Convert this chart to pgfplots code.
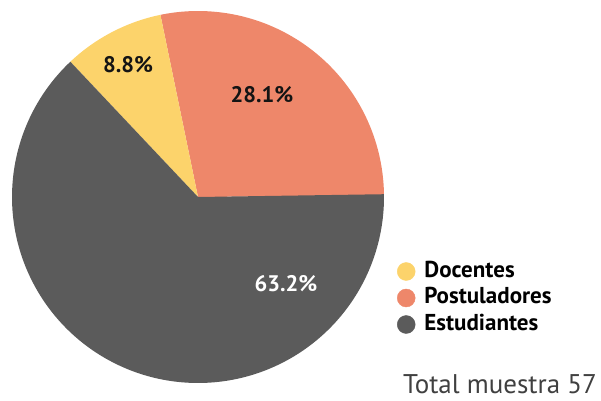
\documentclass[border=0pt]{standalone}
\usepackage{pgfplots}
\pgfplotsset{compat=1.18}
\usepackage{fontspec}
\setmainfont{PT Sans}
\definecolor{cDoc}{HTML}{FCD36B}
\definecolor{cPos}{HTML}{EE876A}
\definecolor{cEst}{HTML}{5B5B5B}
\definecolor{cTxt}{HTML}{141414}
\definecolor{cTot}{HTML}{404040}
% data (percent)
\def\pPos{28.1}
\def\pDoc{8.8}
\def\pEst{63.2}
\def\startang{0.5}
\pgfmathsetmacro{\aA}{\startang}
\pgfmathsetmacro{\aB}{\aA+3.6*\pPos}
\pgfmathsetmacro{\aC}{\aB+3.6*\pDoc}
\pgfmathsetmacro{\aD}{\aC+3.6*\pEst}
\def\cx{198}
\def\cy{203}
\def\rr{186}
\begin{document}
\begin{tikzpicture}
\begin{axis}[
  width=601pt, height=400pt, scale only axis,
  xmin=0, xmax=601, ymin=0, ymax=400,
  hide axis, clip=false,
  legend cell align=left,
  legend style={at={(axis cs:397,102)}, anchor=west, draw=none, fill=none,
    inner sep=0pt, outer sep=0pt, row sep=5.5pt,
    font=\bfseries\fontsize{23}{27}\selectfont,
    nodes={text height=16pt, text depth=5pt, inner ysep=0pt, inner xsep=0pt},
    /tikz/every odd column/.append style={column sep=9pt}},
  legend image code/.code={\fill[#1] (9pt,0pt) circle (9pt);},
]
\path (axis cs:0,0) rectangle (axis cs:601,400);
\addplot[fill=cPos, draw=none, domain=\aA:\aB, samples=90, variable=\t, forget plot]
  ({\cx+\rr*cos(\t)},{\cy+\rr*sin(\t)}) -- (\cx,\cy) -- cycle;
\addplot[fill=cDoc, draw=none, domain=\aB:\aC, samples=40, variable=\t, forget plot]
  ({\cx+\rr*cos(\t)},{\cy+\rr*sin(\t)}) -- (\cx,\cy) -- cycle;
\addplot[fill=cEst, draw=none, domain=\aC:\aD, samples=180, variable=\t, forget plot]
  ({\cx+\rr*cos(\t)},{\cy+\rr*sin(\t)}) -- (\cx,\cy) -- cycle;
\addlegendimage{cDoc}
\addlegendentry{Docentes}
\addlegendimage{cPos}
\addlegendentry{Postuladores}
\addlegendimage{cEst}
\addlegendentry{Estudiantes}
\node[font=\bfseries\fontsize{22.5}{27}\selectfont, text=cTxt] at (axis cs:128,335) {8.8\%};
\node[font=\bfseries\fontsize{22.5}{27}\selectfont, text=cTxt] at (axis cs:262,305) {28.1\%};
\node[font=\bfseries\fontsize{22.5}{27}\selectfont, text=white] at (axis cs:286,116) {63.2\%};
\node[font=\fontsize{27}{32}\selectfont, text=cTot, anchor=base east, inner sep=0pt] at (axis cs:597,6.5) {Total muestra 57};
\end{axis}
\end{tikzpicture}
\end{document}
